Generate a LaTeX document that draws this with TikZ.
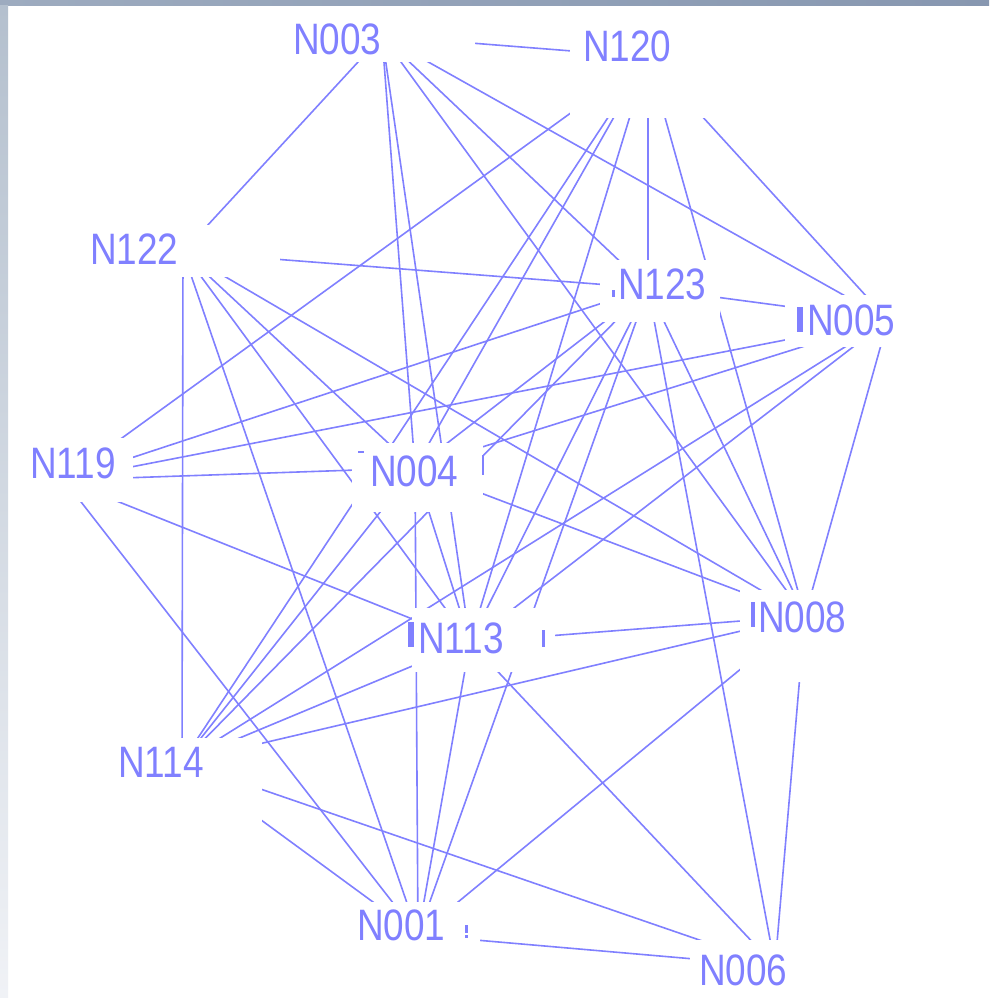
\documentclass[tikz,border=0pt]{standalone}
\usepackage{fontspec}
\newfontfamily\labfont[FakeStretch=0.84]{Liberation Sans}
\definecolor{ln}{HTML}{8080FF}
\definecolor{barA}{HTML}{9DABBF}
\definecolor{barB}{HTML}{8797B0}
\definecolor{sideA}{HTML}{B4C0CE}
\definecolor{sideB}{HTML}{F0F2F6}
\begin{document}
\begin{tikzpicture}[x=1pt,y=-1pt,
  edge/.style={draw=ln,line width=1.6pt},
  lab/.style={text=ln,font=\labfont\fontsize{44}{44}\selectfont,anchor=base west,inner sep=0pt},
  mask/.style={fill=white},
  tick/.style={fill=ln}]
\useasboundingbox (0,0) rectangle (989,998);
\fill[white] (0,0) rectangle (989,998);
% anchor points of the nodes
\coordinate (a003) at (382,36);
\coordinate (a120) at (648,57);
\coordinate (a122) at (183,252);
\coordinate (a123) at (648,288);
\coordinate (a005) at (888,320);
\coordinate (a119) at (64,480);
\coordinate (a004) at (415,468);
\coordinate (a113) at (470,642);
\coordinate (a008) at (805,616);
\coordinate (a114) at (182,762);
\coordinate (a001) at (418,935);
\coordinate (a006) at (775,966);
% connectors
\foreach \p/\q in {003/122,003/120,003/004,003/113,003/008,003/123,003/005,
  120/123,120/005,120/008,120/113,120/004,120/114,120/119,
  122/114,122/001,122/113,122/008,122/123,122/004,
  123/005,123/119,123/114,123/004,123/113,123/001,123/008,123/006,
  005/119,005/008,005/004,005/114,005/113,
  119/004,119/001,119/113,
  004/001,004/008,004/113,004/114,
  113/008,113/001,113/006,113/114,
  008/114,008/006,008/001,
  114/006,114/001,
  001/006}
  \draw[edge] (a\p) -- (a\q);
% white areas of the nodes
\fill[mask] (285,5) rectangle (475,62);
\fill[mask] (570,0) rectangle (726,118);
\fill[mask] (86,225) rectangle (280,277);
\fill[mask] (600,260) rectangle (720,322);
\fill[mask] (785,295) rectangle (989,347);
\fill[mask] (0,438) rectangle (133,502);
\fill[mask] (352,443) rectangle (483,512);
\fill[mask] (412,608) rectangle (555,672);
\fill[mask] (740,590) rectangle (870,682);
\fill[mask] (100,738) rectangle (262,830);
\fill[mask] (330,902) rectangle (480,998);
\fill[mask] (690,940) rectangle (840,998);
% labels
\node[lab] (n003) at (293,55) {N003};
\node[lab] (n120) at (583,62) {N120};
\node[lab] (n122) at (90,264) {N122};
\node[lab] (n123) at (618,299) {N123};
\node[lab] (n005) at (807,335) {N005};
\node[lab] (n119) at (30,478) {N119};
\node[lab] (n004) at (370,486) {N004};
\node[lab] (n113) at (418,653) {N113};
\node[lab] (n008) at (758,632) {N008};
\node[lab] (n114) at (118,777) {N114};
\node[lab] (n001) at (357,940) {N001};
\node[lab] (n006) at (699,985) {N006};
% small stray marks
\fill[tick] (797,307) rectangle (803,332);
\fill[tick] (751,602) rectangle (755,627);
\fill[tick] (408,622) rectangle (414,647);
\fill[tick] (612,290) rectangle (615,297);
\fill[tick] (542,630) rectangle (545,647);
\fill[tick] (358,451) rectangle (364,453);
\fill[tick] (465,925) rectangle (468,933);
\fill[tick] (465,935) rectangle (468,938);
\fill[tick] (482,455) rectangle (484,475);
% window frame
\shade[left color=barA,right color=barB] (0,0) rectangle (989,6);
\shade[top color=sideA,bottom color=sideB] (0,6) rectangle (8,998);
\end{tikzpicture}
\end{document}
